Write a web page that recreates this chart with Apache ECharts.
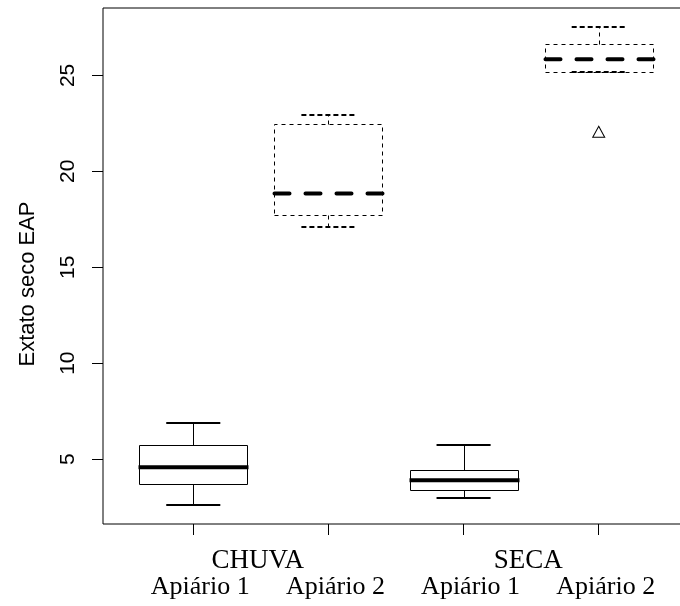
<!DOCTYPE html>
<html>
<head>
<meta charset="utf-8">
<title>Extato seco EAP</title>
<script src="https://cdn.jsdelivr.net/npm/echarts@6/dist/echarts.min.js"></script>
<style>
  html, body { margin: 0; padding: 0; background: #fff; }
  #chart { width: 680px; height: 606px; }
</style>
</head>
<body>
<div id="chart"></div>
<script>
// Season groups (upper label row) and apiary labels (lower label row)
const seasons = ['CHUVA', 'SECA'];
const seasonPositions = [1.5, 3.5];
const apiaries = ['Apiário 1', 'Apiário 2', 'Apiário 1', 'Apiário 2'];
const positions = [1, 2, 3, 4];

// Five-number summaries per box
const lowerWhisker = [2.61, 17.11, 2.96, 25.20];
const lowerQuartile = [3.69, 17.70, 3.37, 25.20];
const medians = [4.57, 18.84, 3.90, 25.84];
const upperQuartile = [5.72, 22.48, 4.44, 26.66];
const upperWhisker = [6.90, 22.96, 5.73, 27.52];

// Points outside the whiskers: [position, value]
const outliers = [[4, 22.06]];

// Y tick values
const yTicks = [5, 10, 15, 20, 25];

// Axis limits: data range padded by 4% on each side
const allValues = lowerWhisker.concat(upperWhisker, outliers.map(o => o[1]));
const dataMin = Math.min.apply(null, allValues);
const dataMax = Math.max.apply(null, allValues);
const pad = 0.04 * (dataMax - dataMin);
const yMin = dataMin - pad;
const yMax = dataMax + pad;
const xMin = 0.332;
const xMax = 4.668;

const boxData = positions.map((p, i) => [p, lowerWhisker[i], lowerQuartile[i], medians[i], upperQuartile[i], upperWhisker[i]]);

const crisp = v => Math.round(v) + 0.5;

function renderBox(params, api) {
  const x = api.value(0);
  const lo = api.coord([x, api.value(1)]);
  const q1 = api.coord([x, api.value(2)]);
  const med = api.coord([x, api.value(3)]);
  const q3 = api.coord([x, api.value(4)]);
  const hi = api.coord([x, api.value(5)]);
  const boxW = api.size([0.8, 0])[0];
  const capW = api.size([0.4, 0])[0];
  const cx = crisp(lo[0]);
  const left = crisp(lo[0] - boxW / 2);
  const right = crisp(lo[0] + boxW / 2);
  const capL = lo[0] - capW / 2;
  const capR = lo[0] + capW / 2;
  const dashed = params.dataIndex % 2 === 1;
  const thin = { stroke: '#000', lineWidth: 1, fill: null, lineDash: dashed ? [4, 4] : null };
  const cap = { stroke: '#000', lineWidth: 2, lineDash: dashed ? [5, 3] : null };
  const medStyle = { stroke: '#000', lineWidth: 4, lineCap: dashed ? 'round' : 'butt', lineDash: dashed ? [15, 16] : null };
  const yq1 = crisp(q1[1]), yq3 = crisp(q3[1]);
  return {
    type: 'group',
    children: [
      { type: 'line', shape: { x1: cx, y1: yq3, x2: cx, y2: Math.round(hi[1]) }, style: thin },
      { type: 'line', shape: { x1: cx, y1: yq1, x2: cx, y2: Math.round(lo[1]) }, style: thin },
      { type: 'line', shape: { x1: capL, y1: Math.round(hi[1]), x2: capR, y2: Math.round(hi[1]) }, style: cap },
      { type: 'line', shape: { x1: capL, y1: Math.round(lo[1]), x2: capR, y2: Math.round(lo[1]) }, style: cap },
      { type: 'polygon', shape: { points: [[left, yq1], [right, yq1], [right, yq3], [left, yq3]] }, style: Object.assign({ fill: '#fff' }, thin) },
      { type: 'line', shape: { x1: left - (dashed ? 0 : 1), y1: med[1], x2: right + (dashed ? 0 : 1), y2: med[1] }, style: medStyle }
    ]
  };
}

const chart = echarts.init(document.getElementById('chart'), null, { renderer: 'canvas' });

chart.setOption({
  backgroundColor: '#fff',
  animation: false,
  grid: {
    left: 103, top: 8, width: 586, height: 516,
    outerBoundsMode: 'none', containLabel: false,
    show: true, borderColor: '#000', borderWidth: 1, backgroundColor: 'transparent'
  },
  xAxis: [
    {
      type: 'value', min: xMin, max: xMax, position: 'bottom',
      splitLine: { show: false },
      axisLine: { show: false },
      axisTick: { show: true, customValues: positions, length: 11, lineStyle: { color: '#000', width: 1 } },
      axisLabel: {
        customValues: positions, margin: 50, padding: [0, 0, 0, 14],
        formatter: v => apiaries[positions.indexOf(v)],
        fontFamily: 'Liberation Serif', fontSize: 26, color: '#000'
      }
    },
    {
      type: 'value', min: xMin, max: xMax, position: 'bottom', gridIndex: 0,
      splitLine: { show: false },
      axisLine: { show: false },
      axisTick: { show: false },
      axisLabel: {
        customValues: seasonPositions, margin: 23, padding: [0, 6, 0, 0],
        formatter: v => seasons[seasonPositions.indexOf(v)],
        fontFamily: 'Liberation Serif', fontSize: 27, color: '#000'
      }
    }
  ],
  yAxis: {
    type: 'value', min: yMin, max: yMax,
    splitLine: { show: false },
    axisLine: { show: false },
    axisTick: { show: true, customValues: yTicks, length: 11, lineStyle: { color: '#000', width: 1 } },
    axisLabel: {
      customValues: yTicks, rotate: 90, margin: 24,
      fontFamily: 'Liberation Sans', fontSize: 21, color: '#000'
    }
  },
  graphic: [
    {
      type: 'text', x: 28, y: 284, rotation: Math.PI / 2,
      style: {
        text: 'Extato seco EAP', fill: '#000',
        font: '22px "Liberation Sans"', align: 'center', verticalAlign: 'middle'
      }
    }
  ],
  series: [
    {
      type: 'custom',
      xAxisIndex: 0,
      renderItem: renderBox,
      encode: { x: 0, y: [1, 2, 3, 4, 5] },
      data: boxData,
      clip: false
    },
    {
      type: 'scatter',
      xAxisIndex: 0,
      symbol: 'triangle',
      symbolSize: [12, 11],
      itemStyle: { color: 'rgba(0,0,0,0)', borderColor: '#000', borderWidth: 1, opacity: 1 },
      data: outliers
    }
  ]
});
</script>
</body>
</html>
